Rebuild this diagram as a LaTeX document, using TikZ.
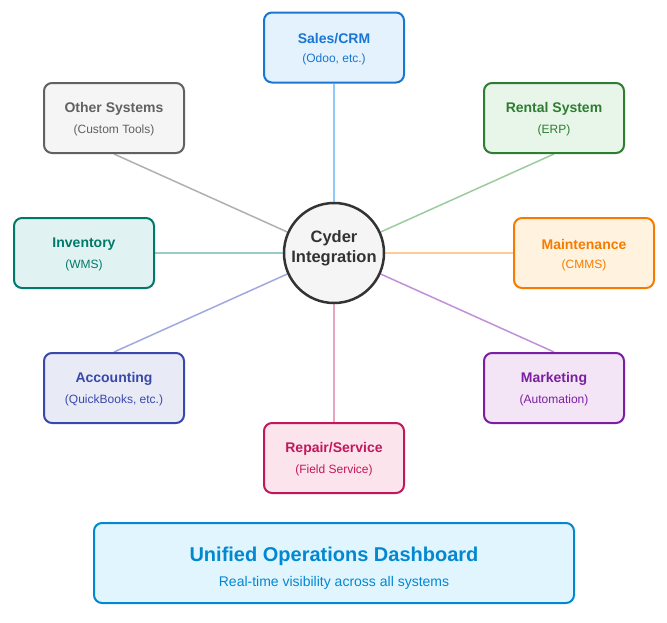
\documentclass[tikz,border=0pt]{standalone}
\usepackage{fontspec}
\setmainfont{Liberation Sans}
\usetikzlibrary{backgrounds}
\begin{document}
\begin{tikzpicture}[x=1pt,y=-1pt,
  sysbox/.style={draw=#1, line width=2pt, rounded corners=8pt,
    minimum width=140pt, minimum height=70pt, inner sep=0pt},
  title/.style={font=\fontsize{14}{17}\selectfont\bfseries, text=#1},
  sub/.style={font=\fontsize{12}{14}\selectfont, text=#1},
  link/.style={draw=#1, line width=1.5pt}]
\definecolor{salesB}{HTML}{1976D2}\definecolor{salesF}{HTML}{E3F2FD}\definecolor{salesL}{HTML}{90CAF9}
\definecolor{rentB}{HTML}{2E7D32}\definecolor{rentF}{HTML}{E8F5E9}\definecolor{rentL}{HTML}{9CCB9E}
\definecolor{mainB}{HTML}{F57C00}\definecolor{mainF}{HTML}{FFF3E0}\definecolor{mainL}{HTML}{FFCC99}
\definecolor{mktB}{HTML}{7B1FA2}\definecolor{mktF}{HTML}{F3E5F5}\definecolor{mktL}{HTML}{C090D8}
\definecolor{repB}{HTML}{C2185B}\definecolor{repF}{HTML}{FCE4EC}\definecolor{repL}{HTML}{E8A4C0}
\definecolor{accB}{HTML}{3949AB}\definecolor{accF}{HTML}{E8EAF6}\definecolor{accL}{HTML}{A0A8E0}
\definecolor{invB}{HTML}{00796B}\definecolor{invF}{HTML}{E0F2F1}\definecolor{invL}{HTML}{99CCC6}
\definecolor{othB}{HTML}{616161}\definecolor{othF}{HTML}{F5F5F5}\definecolor{othL}{HTML}{B0B0B0}
\definecolor{hubB}{HTML}{333333}\definecolor{hubF}{HTML}{F5F5F5}
\definecolor{dashB}{HTML}{0288D1}\definecolor{dashF}{HTML}{E1F5FE}

\useasboundingbox (0,0) rectangle (667,622);

% hub
\node[circle, draw=hubB, fill=hubF, line width=2.5pt, minimum size=100pt, inner sep=0pt] (hub) at (334,253) {};
\node[font=\fontsize{16.5}{20}\selectfont\bfseries, text=hubB] (hubt1) at (334,238) {Cyder};
\node[font=\fontsize{16.5}{20}\selectfont\bfseries, text=hubB] (hubt2) at (334,258) {Integration};

% connected systems
\node[sysbox=salesB, fill=salesF] (sales) at (334,47.5) {};
\node[title=salesB] (salest) at (334,38.5) {Sales/CRM};
\node[sub=salesB] (saless) at (334,59.5) {(Odoo, etc.)};

\node[sysbox=rentB, fill=rentF] (rental) at (554,118) {};
\node[title=rentB] (rentalt) at (554,109) {Rental System};
\node[sub=rentB] (rentals) at (554,130) {(ERP)};

\node[sysbox=othB, fill=othF] (other) at (114,118) {};
\node[title=othB] (othert) at (114,109) {Other Systems};
\node[sub=othB] (others) at (114,130) {(Custom Tools)};

\node[sysbox=invB, fill=invF] (inv) at (84,253) {};
\node[title=invB] (invt) at (84,244) {Inventory};
\node[sub=invB] (invs) at (84,265) {(WMS)};

\node[sysbox=mainB, fill=mainF] (maint) at (584,253) {};
\node[title=mainB] (maintt) at (584,244) {Maintenance};
\node[sub=mainB] (maints) at (584,265) {(CMMS)};

\node[sysbox=accB, fill=accF] (acc) at (114,388) {};
\node[title=accB] (acct) at (114,379) {Accounting};
\node[sub=accB] (accs) at (114,400) {(QuickBooks, etc.)};

\node[sysbox=mktB, fill=mktF] (mkt) at (554,388) {};
\node[title=mktB] (mktt) at (554,379) {Marketing};
\node[sub=mktB] (mkts) at (554,400) {(Automation)};

\node[sysbox=repB, fill=repF] (rep) at (334,458) {};
\node[title=repB] (rept) at (334,449) {Repair/Service};
\node[sub=repB] (reps) at (334,470) {(Field Service)};

% connectors run behind the hub and the boxes
\begin{scope}[on background layer]
  \draw[link=salesL] (sales.south) -- (hub.center);
  \draw[link=rentL] (rental.south) -- (hub.center);
  \draw[link=othL] (other.south) -- (hub.center);
  \draw[link=invL] (inv.east) -- (hub.center);
  \draw[link=mainL] (maint.west) -- (hub.center);
  \draw[link=accL] (acc.north) -- (hub.center);
  \draw[link=mktL] (mkt.north) -- (hub.center);
  \draw[link=repL] (rep.north) -- (hub.center);
\end{scope}

% dashboard banner
\node[draw=dashB, fill=dashF, line width=2pt, rounded corners=8pt,
  minimum width=480pt, minimum height=80pt, inner sep=0pt] (dash) at (334,563) {};
\node[font=\fontsize{20}{24}\selectfont\bfseries, text=dashB] (dasht) at (334,556) {Unified Operations Dashboard};
\node[font=\fontsize{14}{17}\selectfont, text=dashB] (dashs) at (334,583) {Real-time visibility across all systems};
\end{tikzpicture}
\end{document}
